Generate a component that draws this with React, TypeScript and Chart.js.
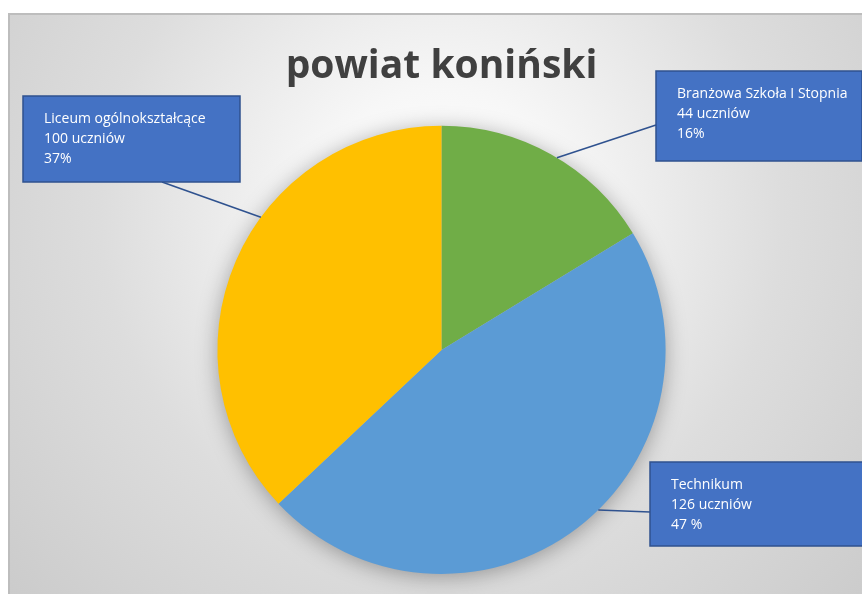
import React, { useEffect, useRef } from "react";
import { Chart, registerables } from "chart.js";

Chart.register(...registerables);

// ---- data ----
const categories = ["Branżowa Szkoła I Stopnia", "Technikum", "Liceum ogólnokształcące"];
const students = [44, 126, 100];
const percentLabels = ["16%", "47 %", "37%"];
const sliceColors = ["#70AD47", "#5B9BD5", "#FFC000"];
const chartTitle = "powiat koniński";
const unitWord = "uczniów";

// ---- callout layout (canvas px) ----
const boxRects = [
  [648, 58, 206, 90],
  [642, 449, 216, 84],
  [15, 83, 217, 86],
];
const boxAttach = [
  [648, 112],
  [642, 499],
  [154, 169],
];
const leaderAngles = [31, 135.6, 306.3];

const backgroundPlugin = {
  id: "bgPlugin",
  beforeDraw(chart: any) {
    const { ctx, width, height } = chart;
    ctx.save();
    const g = ctx.createRadialGradient(433, 200, 0, 433, 200, 620);
    g.addColorStop(0, "#ffffff");
    g.addColorStop(0.2, "#f7f7f7");
    g.addColorStop(0.55, "#dddddd");
    g.addColorStop(1, "#c8c8c8");
    ctx.fillStyle = g;
    ctx.fillRect(0, 0, width, height);
    ctx.strokeStyle = "#bdbdbd";
    ctx.lineWidth = 2;
    ctx.strokeRect(1, 1, width + 4, height + 4);
    ctx.restore();
  },
  beforeDatasetsDraw(chart: any) {
    const meta = chart.getDatasetMeta(0);
    const arc = meta.data[0];
    if (!arc) return;
    const { ctx } = chart;
    ctx.save();
    ctx.shadowColor = "rgba(0,0,0,0.35)";
    ctx.shadowBlur = 22;
    ctx.shadowOffsetY = 3;
    ctx.fillStyle = "#bbbbbb";
    ctx.beginPath();
    ctx.arc(arc.x, arc.y, arc.outerRadius - 1, 0, Math.PI * 2);
    ctx.fill();
    ctx.restore();
  },
};

const calloutPlugin = {
  id: "callouts",
  afterDatasetsDraw(chart: any) {
    const meta = chart.getDatasetMeta(0);
    const { ctx } = chart;
    ctx.save();
    meta.data.forEach((arc: any, i: number) => {
      const a = ((leaderAngles[i] - 90) * Math.PI) / 180;
      const px = arc.x + arc.outerRadius * Math.cos(a);
      const py = arc.y + arc.outerRadius * Math.sin(a);
      ctx.strokeStyle = "#2F528F";
      ctx.lineWidth = 1.6;
      ctx.beginPath();
      ctx.moveTo(boxAttach[i][0], boxAttach[i][1]);
      ctx.lineTo(px, py);
      ctx.stroke();

      const [bx, by, bw, bh] = boxRects[i];
      ctx.fillStyle = "#4472C4";
      ctx.fillRect(bx, by, bw, bh);
      ctx.strokeStyle = "#2F528F";
      ctx.lineWidth = 1.5;
      ctx.strokeRect(bx, by, bw, bh);

      ctx.fillStyle = "#ffffff";
      ctx.font = "14px 'Open Sans'";
      ctx.textBaseline = "alphabetic";
      ctx.textAlign = "left";
      const lines = [categories[i], `${students[i]} ${unitWord}`, percentLabels[i]];
      lines.forEach((t, k) => {
        ctx.fillText(t, bx + 21, by + 27 + k * 20);
      });
    });
    ctx.restore();
  },
};

export default function App() {
  const ref = useRef<HTMLCanvasElement | null>(null);
  useEffect(() => {
    if (!ref.current) return;
    const chart = new Chart(ref.current, {
      type: "pie",
      data: {
        labels: categories,
        datasets: [
          {
            data: students,
            backgroundColor: sliceColors,
            borderWidth: 0,
            hoverOffset: 0,
          },
        ],
      },
      options: {
        animation: false,
        responsive: true,
        maintainAspectRatio: false,
        layout: { padding: { left: 13, right: 0, top: 0, bottom: 20 } },
        plugins: {
          legend: { display: false },
          tooltip: { enabled: false },
          title: {
            display: true,
            text: chartTitle,
            color: "#404040",
            font: { family: "'Open Sans'", weight: "bold", size: 39, lineHeight: 1.2 },
            padding: { top: 30, bottom: 36 },
          },
        },
      },
      plugins: [backgroundPlugin, calloutPlugin],
    });
    return () => chart.destroy();
  }, []);
  return (
    <div style={{ position: "fixed", left: 8, top: 13, width: 854, height: 581 }}>
      <canvas ref={ref} />
    </div>
  );
}
